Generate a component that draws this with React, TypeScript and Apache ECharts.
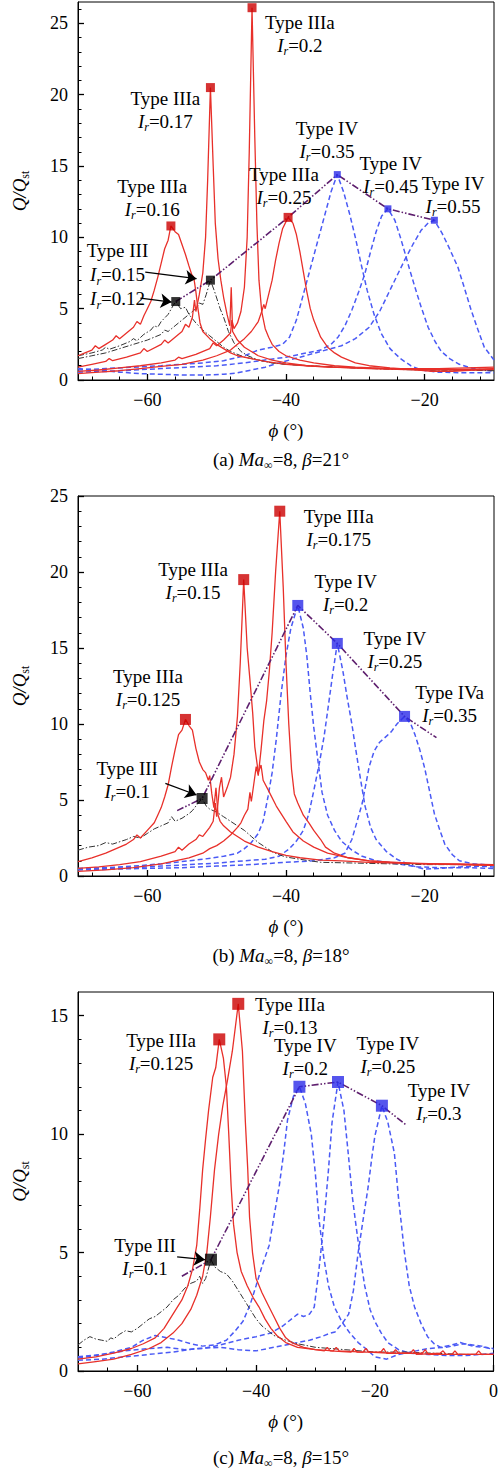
import React, { useEffect, useRef } from 'react';
import * as echarts from 'echarts';

const FONT = "'Times New Roman', 'Liberation Serif', serif";

// ---------- tick values ----------
const AB_X_MAJOR = [-60, -40, -20];
const AB_X_MINOR = [-68, -64, -56, -52, -48, -44, -36, -32, -28, -24, -16, -12];
const C_X_MAJOR = [-60, -40, -20, 0];
const C_X_MINOR = [-65, -55, -50, -45, -35, -30, -25, -15, -10, -5];
const A_Y_MAJOR = [0, 5, 10, 15, 20, 25];
const A_Y_MINOR = [1, 2, 3, 4, 6, 7, 8, 9, 11, 12, 13, 14, 16, 17, 18, 19, 21, 22, 23, 24, 26];
const B_Y_MAJOR = [0, 5, 10, 15, 20, 25];
const B_Y_MINOR = [1, 2, 3, 4, 6, 7, 8, 9, 11, 12, 13, 14, 16, 17, 18, 19, 21, 22, 23, 24];
const C_Y_MAJOR = [0, 5, 10, 15];
const C_Y_MINOR = [1, 2, 3, 4, 6, 7, 8, 9, 11, 12, 13, 14];

// ---------- panel (a) Ma=8, beta=21 ----------
const A_III_012 = [[-70,1.7],[-68,1.9],[-66.5,2.1],[-66,2.3],[-65.5,2.15],[-64,2.4],[-62.5,2.7],[-62,2.9],[-61.5,2.75],[-60.5,3.2],[-59.5,3.5],[-59,3.8],[-58.5,3.7],[-58,4.1],[-57,4.6],[-56.3,5.2],[-55.9,5.5],[-55.2,5.0],[-54.5,5.1],[-54,4.6],[-53,4.0],[-52,3.5],[-51,3.1],[-50,2.7],[-49,2.3],[-48,2.0],[-46,1.6],[-44,1.4],[-42,1.2],[-40,1.1],[-35,0.95],[-30,0.85],[-25,0.8],[-20,0.7],[-15,0.7],[-10,0.65]];
const A_III_015 = [[-70,1.5],[-68,1.7],[-66,1.9],[-64,2.2],[-62,2.5],[-60,2.8],[-58,3.2],[-57.5,3.5],[-57,3.4],[-56,3.8],[-55,4.2],[-54,4.6],[-53,5.0],[-52.5,5.4],[-52,5.3],[-51.5,6.0],[-50.9,7.0],[-50.3,6.2],[-49.5,5.0],[-49,4.4],[-48.3,3.4],[-47.5,2.6],[-46.5,2.0],[-45.5,1.7],[-44,1.4],[-42,1.2],[-40,1.1],[-35,0.95],[-30,0.85],[-25,0.75],[-20,0.7],[-15,0.7],[-10,0.7]];
const A_IIIA_016 = [[-70,1.7],[-69,1.9],[-68,2.1],[-67.5,2.4],[-67,2.2],[-66,2.5],[-65,2.8],[-64.5,3.1],[-64,2.9],[-63,3.3],[-62,3.7],[-61.5,4.1],[-61,3.9],[-60.5,4.5],[-60,5.0],[-59.5,5.5],[-59,6.3],[-58.5,7.2],[-58,8.2],[-57.5,9.2],[-57,9.8],[-56.6,10.8],[-56,10.4],[-55.5,10.2],[-55,9.5],[-54.5,8.8],[-54,8.0],[-53.6,7.4],[-53.3,7.2],[-53,6.2],[-52.7,5.0],[-52.4,4.0],[-52,3.4],[-51,2.9],[-50,2.5],[-49,2.2],[-48,1.9],[-47,1.7],[-45,1.5],[-43,1.3],[-40,1.1],[-37,1.0],[-34,0.9],[-30,0.85],[-26,0.8],[-22,0.8],[-18,0.8],[-14,0.85],[-10,0.9]];
const A_IIIA_017 = [[-70,0.9],[-68,1.1],[-66,1.3],[-65.5,1.5],[-65,1.35],[-63,1.6],[-61,1.9],[-60.5,2.2],[-60,2.0],[-58,2.5],[-57.5,2.8],[-57,2.6],[-56,3.0],[-55,3.4],[-54.5,3.9],[-54,3.7],[-53.5,4.4],[-53.2,5.6],[-53,4.8],[-52.5,6.0],[-52,7.5],[-51.6,10],[-51.3,14],[-50.9,20.5],[-50.5,15],[-50.2,11],[-49.8,8.5],[-49.4,7.0],[-49,5.8],[-48.5,4.6],[-48.1,3.8],[-47.9,6.5],[-47.7,3.4],[-47,2.8],[-46,2.3],[-45,2.0],[-44,1.7],[-42,1.4],[-40,1.2],[-37,1.0],[-33,0.9],[-28,0.8],[-24,0.75],[-20,0.7],[-15,0.75],[-10,0.8]];
const A_IIIA_02 = [[-70,0.6],[-67,0.7],[-64,0.85],[-61,1.0],[-58,1.2],[-56,1.4],[-55.5,1.6],[-55,1.5],[-53,1.8],[-51,2.2],[-50.5,2.6],[-50,2.4],[-49,2.8],[-48,3.3],[-47.8,4.2],[-47.5,3.6],[-47,4.0],[-46.5,4.8],[-46,6.5],[-45.6,10],[-45.3,16],[-44.9,26.1],[-44.5,17],[-44.2,11],[-43.9,7.0],[-43.5,4.8],[-43,3.6],[-42.5,3.0],[-42,2.5],[-41,2.0],[-40,1.7],[-38,1.4],[-36,1.2],[-33,1.0],[-30,0.9],[-25,0.8],[-20,0.75],[-15,0.7],[-10,0.75]];
const A_IIIA_025 = [[-70,0.45],[-67,0.55],[-64,0.65],[-61,0.8],[-58,0.95],[-55,1.1],[-52,1.4],[-50,1.7],[-48,2.1],[-47,2.5],[-46,2.9],[-45,3.4],[-44,4.1],[-43.5,4.8],[-43.2,5.3],[-43,5.0],[-42.5,6.0],[-42,7.0],[-41.5,8.4],[-41,9.6],[-40.5,10.6],[-39.7,11.4],[-39,11.0],[-38.5,10.2],[-38,9.0],[-37.5,7.6],[-37,6.2],[-36.5,5.0],[-36,4.2],[-35.5,3.6],[-35,3.0],[-34,2.3],[-33,1.9],[-32,1.6],[-30,1.2],[-28,1.0],[-25,0.85],[-22,0.75],[-19,0.6],[-16,0.6],[-13,0.7],[-10,0.75]];
const A_IV_035 = [[-70,0.7],[-66,0.8],[-62,0.9],[-58,1.0],[-55,1.1],[-52,1.2],[-49,1.35],[-46,1.7],[-44,2.1],[-42,2.3],[-40.5,2.5],[-39.5,3.0],[-38.5,4.2],[-37.5,6.0],[-36.5,7.8],[-35.5,9.6],[-34.5,11.4],[-33.5,13.2],[-32.6,14.4],[-31.7,13.2],[-30.8,11.6],[-30,10.0],[-29.2,8.2],[-28.3,6.3],[-27.3,4.6],[-26.3,3.3],[-25,2.2],[-23.5,1.5],[-22,1.0],[-20.5,0.7],[-18,0.55],[-14,0.5],[-10,0.5]];
const A_IV_045 = [[-70,0.55],[-66,0.6],[-62,0.7],[-58,0.8],[-54,0.9],[-50,1.0],[-46,1.2],[-43,1.4],[-40,1.6],[-37,1.9],[-35,2.1],[-33.5,2.5],[-32.5,3.0],[-31.5,3.8],[-30.5,4.9],[-29.5,6.2],[-28.6,7.5],[-27.8,9.0],[-27,10.4],[-26.2,11.5],[-25.3,12.0],[-24.3,11.2],[-23.5,10.0],[-22.9,9.0],[-22.2,7.8],[-21.4,6.5],[-20.5,5.1],[-19.5,3.7],[-18.5,2.7],[-17.6,2.0],[-16.4,1.5],[-15,1.1],[-13,0.8],[-10,0.6]];
const A_IV_055 = [[-70,0.8],[-67,0.7],[-64,0.55],[-61,0.45],[-58,0.4],[-55,0.35],[-52,0.35],[-49,0.4],[-47,0.5],[-45,0.7],[-43,0.9],[-41,1.2],[-38,1.6],[-35,2.0],[-32,2.4],[-30,2.9],[-28,3.7],[-26.5,4.8],[-25.2,6.1],[-24,7.3],[-22.9,8.4],[-21.7,9.5],[-20.5,10.5],[-19.5,11.0],[-18.6,11.2],[-17.5,10.3],[-16.5,9.3],[-15.2,7.9],[-14.3,6.5],[-13.3,4.9],[-12.3,3.5],[-11.4,2.3],[-10,1.4]];
const A_TREND = [[-55.9,5.5],[-50.9,7.0],[-39.7,11.4],[-32.6,14.4],[-25.3,12.0],[-18.6,11.2]];
const A_RED_PEAKS = [[-56.6,10.8],[-50.9,20.5],[-44.9,26.1],[-39.7,11.4]];
const A_BLUE_PEAKS = [[-32.6,14.4],[-25.3,12.0],[-18.6,11.2]];
const A_BLACK_PEAKS = [[-55.9,5.5],[-50.9,7.0]];
const A_ARROWS = [[[-60.3,7.56],[-52.9,7.1]], [[-61.0,5.74],[-56.5,5.46]]];
const A_NOTES = [
  { type: 'Type IIIa', irs: ['0.2'], at: [-38.0, 25.84] },
  { type: 'Type IIIa', irs: ['0.17'], at: [-57.4, 20.55] },
  { type: 'Type IIIa', irs: ['0.16'], at: [-59.3, 14.4] },
  { type: 'Type IIIa', irs: ['0.25'], at: [-40.3, 15.23] },
  { type: 'Type IV', irs: ['0.35'], at: [-34.1, 18.45] },
  { type: 'Type IV', irs: ['0.45'], at: [-24.9, 16.0] },
  { type: 'Type IV', irs: ['0.55'], at: [-15.9, 14.6] },
  { type: 'Type III', irs: ['0.15', '0.12'], at: [-64.3, 9.91] },
];

// ---------- panel (b) Ma=8, beta=18 ----------
const B_III_01 = [[-70,1.7],[-68.5,1.9],[-67,2.0],[-66,2.2],[-65,2.1],[-63,2.4],[-62,2.6],[-61,2.5],[-60,2.8],[-59,3.1],[-58,3.3],[-57,3.5],[-56.5,3.9],[-56,3.6],[-55,3.8],[-54,4.1],[-53.5,4.3],[-53,4.6],[-52.1,5.1],[-51.5,4.6],[-51,4.4],[-50,4.2],[-49,3.9],[-48,3.6],[-47,3.3],[-46,3.0],[-45,2.6],[-44,2.2],[-43,1.9],[-42,1.6],[-41,1.4],[-40,1.25],[-38,1.1],[-35,0.9],[-30,0.85],[-25,0.8],[-20,0.75],[-15,0.75],[-10,0.7]];
const B_IIIA_0125 = [[-70,0.95],[-68,1.2],[-66,1.5],[-65,1.7],[-64,1.9],[-63,2.1],[-62,2.4],[-61.5,2.7],[-61,2.5],[-60,3.0],[-59,3.5],[-58.5,4.0],[-58,4.5],[-57.5,5.2],[-57,6.0],[-56.5,7.2],[-56,8.3],[-55.5,9.3],[-55,9.6],[-54.5,10.3],[-54,9.9],[-53.5,9.6],[-53,8.4],[-52.5,7.5],[-52,7.0],[-51.6,6.8],[-51.2,6.3],[-51,6.6],[-50.7,5.4],[-50.4,4.5],[-50.1,5.8],[-49.8,4.0],[-49.5,3.6],[-49,3.3],[-48,2.9],[-47,2.6],[-46,2.3],[-45,2.1],[-44,1.9],[-42,1.6],[-40,1.35],[-38,1.2],[-35,1.05],[-32,1.0],[-28,0.9],[-24,0.85],[-20,0.8],[-15,0.8],[-10,0.75]];
const B_IIIA_015 = [[-70,0.5],[-67,0.6],[-64,0.75],[-61,0.95],[-58,1.3],[-56,1.6],[-55.5,1.9],[-55,1.7],[-54,2.1],[-53,2.4],[-52.5,2.7],[-52,2.6],[-51,3.2],[-50.5,3.6],[-50.2,4.8],[-50,3.9],[-49.6,5.8],[-49.3,6.5],[-49,5.2],[-48.5,5.8],[-48,6.5],[-47.5,8.0],[-47,10.5],[-46.6,14],[-46.1,19.5],[-45.6,15],[-45.2,12.9],[-44.8,10.7],[-44.5,8.5],[-44,6.8],[-43.6,7.3],[-43.3,6.3],[-42.5,5.6],[-41.4,4.6],[-40,3.6],[-39,2.9],[-37.5,2.3],[-36,1.9],[-34,1.5],[-31,1.2],[-28,1.0],[-24,0.9],[-20,0.8],[-15,0.75],[-10,0.7]];
const B_IIIA_0175 = [[-70,0.3],[-66,0.4],[-62,0.55],[-58,0.8],[-56,1.0],[-54,1.2],[-52,1.5],[-51,1.8],[-50,2.0],[-49,2.3],[-48,2.7],[-47,3.2],[-46.5,3.5],[-46,4.0],[-45.5,4.4],[-45.2,5.5],[-45,4.9],[-44.6,6.2],[-44.3,7.2],[-44,6.6],[-43.6,8.3],[-43.2,10.2],[-42.8,11.5],[-42.4,13.5],[-42,16],[-41.5,20],[-40.9,24.0],[-40.4,19],[-40,14],[-39.6,10],[-39.2,7],[-38.8,5.4],[-38.3,4.8],[-37.5,4.0],[-36.7,3.5],[-36,3.0],[-35,2.4],[-34.3,1.9],[-33,1.5],[-31,1.2],[-28,1.0],[-25,0.9],[-22,0.85],[-18,0.8],[-14,0.75],[-10,0.7]];
const B_IV_02 = [[-70,0.5],[-66,0.55],[-62,0.65],[-58,0.8],[-55,0.95],[-52,1.1],[-49,1.3],[-47,1.5],[-46,1.8],[-45,2.2],[-44,2.8],[-43.3,3.6],[-42.6,5.2],[-42,6.8],[-41.4,9.0],[-40.7,12.0],[-40,14.5],[-39.3,16.3],[-38.3,17.8],[-37.5,16.3],[-37,14.5],[-36.5,12],[-36,9.8],[-35.4,7.6],[-34.8,5.5],[-34,4.0],[-33,3.0],[-32,2.3],[-30.5,1.7],[-29,1.3],[-27,1.0],[-24,0.8],[-21,0.6],[-18,0.55],[-14,0.55],[-10,0.5]];
const B_IV_025 = [[-70,0.45],[-66,0.5],[-62,0.55],[-58,0.65],[-54,0.75],[-50,0.85],[-46,1.0],[-43,1.1],[-41,1.3],[-39.5,1.8],[-38.5,2.3],[-37.5,3.0],[-36.7,4.1],[-36,5.6],[-35.2,7.4],[-34.5,9.2],[-33.8,11.5],[-33.2,13.5],[-32.6,15.3],[-31.8,13.5],[-31.2,11.8],[-30.5,10.0],[-30,8.5],[-29.3,6.5],[-28.6,4.6],[-27.8,3.2],[-27,2.4],[-25.5,1.6],[-24,1.1],[-22,0.7],[-20,0.45],[-18,0.5],[-15,0.6],[-12,0.65],[-10,0.6]];
const B_IVA_035 = [[-70,0.4],[-65,0.45],[-60,0.5],[-55,0.55],[-50,0.65],[-45,0.75],[-40,0.9],[-36,1.0],[-33,1.2],[-31.5,1.5],[-30.5,2.4],[-29.8,3.5],[-29,4.8],[-28.5,6.0],[-28,7.2],[-27.3,8.2],[-26.5,8.8],[-25.5,9.2],[-24.8,9.5],[-24,10.0],[-22.9,10.5],[-22,10.0],[-21.4,9.3],[-20.7,8.3],[-20,7.1],[-19.3,5.6],[-18.6,4.1],[-17.8,3.0],[-17.1,2.1],[-16,1.4],[-15,1.0],[-13,0.8],[-10,0.7]];
const B_TREND = [[-55.7,4.3],[-52.1,5.1],[-38.3,17.8],[-32.6,15.3],[-22.9,10.5],[-18.3,9.1]];
const B_RED_PEAKS = [[-54.5,10.3],[-46.1,19.5],[-40.9,24.0]];
const B_BLUE_PEAKS = [[-38.3,17.8],[-32.6,15.3],[-22.9,10.5]];
const B_BLACK_PEAKS = [[-52.1,5.1]];
const B_ARROWS = [[[-57.4,6.1],[-52.9,5.33]]];
const B_NOTES = [
  { type: 'Type IIIa', irs: ['0.175'], at: [-32.4, 24.38] },
  { type: 'Type IIIa', irs: ['0.15'], at: [-53.4, 20.95] },
  { type: 'Type IV', irs: ['0.2'], at: [-31.4, 20.1] },
  { type: 'Type IV', irs: ['0.25'], at: [-24.3, 16.41] },
  { type: 'Type IIIa', irs: ['0.125'], at: [-59.9, 13.85] },
  { type: 'Type IVa', irs: ['0.35'], at: [-16.4, 12.8] },
  { type: 'Type III', irs: ['0.1'], at: [-62.9, 7.86] },
];

// ---------- panel (c) Ma=8, beta=15 ----------
const C_III_01 = [[-70,1.1],[-69,1.3],[-68,1.45],[-67,1.35],[-66,1.3],[-65,1.25],[-64.5,1.4],[-64,1.35],[-63,1.55],[-62,1.7],[-61,1.65],[-60,1.8],[-59,2.0],[-58,2.2],[-57,2.3],[-56,2.5],[-55,2.7],[-54,3.0],[-53,3.2],[-52,3.5],[-51,3.7],[-50,3.8],[-49.5,4.0],[-49,3.7],[-48.5,3.9],[-47.6,4.7],[-47,4.4],[-46,4.2],[-45,4.1],[-44,3.8],[-43,3.4],[-42,3.0],[-41,2.6],[-40,2.2],[-39,1.9],[-38,1.7],[-37,1.5],[-35,1.3],[-33,1.15],[-30,1.0],[-25,0.9],[-20,0.8],[-15,0.8],[-10,0.75],[-5,0.7],[0,0.7]];
const C_IIIA_0125 = [[-70,0.5],[-67,0.6],[-64,0.75],[-61,0.95],[-59,1.15],[-57,1.4],[-55.5,1.8],[-54.5,2.2],[-53.5,2.6],[-52.5,3.0],[-51.5,3.6],[-50.7,4.3],[-50,5.3],[-49.5,6.8],[-49,8.5],[-48.5,9.8],[-48,11.0],[-47.3,12.4],[-46.8,12.8],[-46.2,14.0],[-45.5,13.2],[-45.0,12.0],[-44.6,10.0],[-44.2,7.8],[-43.8,6.2],[-43.2,5.0],[-42.5,4.2],[-41.5,3.6],[-40.5,3.1],[-39.5,2.7],[-38.5,2.2],[-37.5,1.8],[-36.5,1.5],[-35,1.2],[-33,1.0],[-30,0.9],[-27,0.85],[-26.5,1.0],[-26,0.85],[-22,0.8],[-21.5,0.95],[-21,0.8],[-17,0.75],[-16.5,0.9],[-16,0.75],[-12,0.75],[-11.5,0.9],[-11,0.7],[-7,0.7],[-6.5,0.85],[-6,0.7],[0,0.7]];
const C_IIIA_013 = [[-70,0.3],[-67,0.4],[-64,0.5],[-61,0.7],[-58,0.95],[-56,1.2],[-54,1.6],[-52.5,2.0],[-51,2.6],[-50,3.2],[-49,4.0],[-48.3,5.0],[-47.7,6.5],[-47,8.5],[-46.3,10.0],[-45.6,11.2],[-44.8,12.3],[-44,13.5],[-43.0,15.5],[-42.3,13.5],[-41.8,10.5],[-41.4,8.5],[-41.1,6.5],[-40.6,5.0],[-40,3.9],[-39,3.3],[-38,2.8],[-37,2.3],[-36,1.8],[-35,1.4],[-34,1.2],[-32,1.0],[-30,0.9],[-28.5,0.85],[-28,1.0],[-27.5,0.85],[-24,0.8],[-23.5,0.95],[-23,0.8],[-19,0.8],[-18.5,0.95],[-18,0.75],[-14,0.75],[-13.5,0.9],[-13,0.7],[-9,0.75],[-8.5,0.85],[-8,0.7],[-3,0.7],[-2.5,0.85],[-2,0.7],[0,0.7]];
const C_IV_02 = [[-70,0.55],[-67,0.65],[-64,0.8],[-61,1.0],[-59,1.3],[-57,1.5],[-55,1.4],[-53,1.3],[-51,1.15],[-49,1.05],[-47,1.1],[-45,1.3],[-43.5,1.7],[-42.2,2.1],[-41,2.8],[-40,3.6],[-38.9,4.5],[-37.8,5.3],[-37,6.5],[-36.1,7.8],[-35.3,9.3],[-34.7,10.6],[-33.7,11.6],[-32.7,12.0],[-31.7,11.3],[-30.7,10.0],[-30,8.3],[-29.4,6.4],[-28.6,4.8],[-27.8,3.6],[-26.8,2.7],[-25.6,2.1],[-24.2,1.6],[-22.8,1.2],[-21.3,0.9],[-20,0.6],[-18,0.5],[-16,0.7],[-13,0.85],[-11,0.95],[-8,1.0],[-5,1.15],[-2,1.05],[0,0.9]];
const C_IV_025 = [[-70,0.6],[-66,0.7],[-62,0.85],[-58,0.95],[-55,1.0],[-52,0.9],[-49,0.95],[-46,1.1],[-43,1.3],[-40,1.45],[-37.5,1.6],[-35.5,1.9],[-34,2.2],[-33,2.4],[-32,2.3],[-31,2.4],[-30.2,2.7],[-29.4,4.3],[-28.6,6.2],[-27.8,8.5],[-27.2,10.5],[-26.2,12.2],[-25.2,11.0],[-24.4,9.0],[-23.8,7.4],[-23.3,6.4],[-22.5,4.9],[-21.7,3.6],[-20.8,2.6],[-20,2.1],[-18.9,1.6],[-17.8,1.2],[-16,0.9],[-14,0.75],[-11,0.7],[-8,0.65],[-5,0.65],[-2,0.7],[0,0.75]];
const C_IV_03 = [[-70,0.45],[-66,0.5],[-62,0.6],[-58,0.7],[-54,0.8],[-50,0.95],[-46,1.0],[-43,0.9],[-40,0.85],[-37,1.0],[-34,1.15],[-31,1.3],[-29,1.45],[-27.5,1.6],[-26.7,1.65],[-25.5,2.0],[-24.4,2.4],[-23.6,3.4],[-22.8,5.0],[-21.9,6.5],[-21.1,7.8],[-20.5,9.0],[-20,9.9],[-18.8,11.2],[-17.8,10.5],[-16.7,9.2],[-16,7.3],[-15,5.0],[-14.2,3.6],[-13.3,2.7],[-12.2,2.0],[-11.1,1.45],[-10,1.15],[-8.9,1.0],[-7,1.1],[-5.6,1.2],[-3.5,1.05],[-1.5,1.0],[0,0.95]];
const C_TREND = [[-52.5,4.0],[-47.6,4.7],[-32.7,12.0],[-26.2,12.2],[-18.8,11.2],[-14.8,10.4]];
const C_RED_PEAKS = [[-46.2,14.0],[-43.0,15.5]];
const C_BLUE_PEAKS = [[-32.7,12.0],[-26.2,12.2],[-18.8,11.2]];
const C_BLACK_PEAKS = [[-47.6,4.7]];
const C_ARROWS = [[[-53.3,4.82],[-48.6,4.7]]];
const C_NOTES = [
  { type: 'Type IIIa', irs: ['0.13'], at: [-34.3, 15.95] },
  { type: 'Type IIIa', irs: ['0.125'], at: [-56.0, 14.43] },
  { type: 'Type IV', irs: ['0.2'], at: [-31.7, 14.22] },
  { type: 'Type IV', irs: ['0.25'], at: [-17.8, 14.3] },
  { type: 'Type IV', irs: ['0.3'], at: [-9.2, 12.33] },
  { type: 'Type III', irs: ['0.1'], at: [-58.7, 5.79] },
];

const RED = '#e8302a';
const RED_MK = '#cc0000';
const BLUE = '#4a5af5';
const BLUE_MK = '#2a2ae8';
const PURPLE = '#5e1f6e';

const PANELS = [
  { top: 2, height: 378, xmin: -70, xmax: -10, ymax: 26.5, xMaj: AB_X_MAJOR, xMin: AB_X_MINOR, yMaj: A_Y_MAJOR, yMin: A_Y_MINOR,
    red: [A_IIIA_016, A_IIIA_017, A_IIIA_02, A_IIIA_025], blue: [A_IV_035, A_IV_045, A_IV_055], black: [A_III_012, A_III_015],
    trend: A_TREND, redPk: A_RED_PEAKS, bluePk: A_BLUE_PEAKS, blackPk: A_BLACK_PEAKS, arrows: A_ARROWS, notes: A_NOTES,
    mk: [9, 7, 9], caption: ['(a) ', '21'], capY: 459 },
  { top: 496, height: 380, xmin: -70, xmax: -10, ymax: 25, xMaj: AB_X_MAJOR, xMin: AB_X_MINOR, yMaj: B_Y_MAJOR, yMin: B_Y_MINOR,
    red: [B_IIIA_0125, B_IIIA_015, B_IIIA_0175], blue: [B_IV_02, B_IV_025, B_IVA_035], black: [B_III_01],
    trend: B_TREND, redPk: B_RED_PEAKS, bluePk: B_BLUE_PEAKS, blackPk: B_BLACK_PEAKS, arrows: B_ARROWS, notes: B_NOTES,
    mk: [11, 11, 11], caption: ['(b) ', '18'], capY: 955 },
  { top: 992, height: 379, xmin: -70, xmax: 0, ymax: 16, xMaj: C_X_MAJOR, xMin: C_X_MINOR, yMaj: C_Y_MAJOR, yMin: C_Y_MINOR,
    red: [C_IIIA_0125, C_IIIA_013], blue: [C_IV_02, C_IV_025, C_IV_03], black: [C_III_01],
    trend: C_TREND, redPk: C_RED_PEAKS, bluePk: C_BLUE_PEAKS, blackPk: C_BLACK_PEAKS, arrows: C_ARROWS, notes: C_NOTES,
    mk: [12, 12, 12], caption: ['(c) ', '15'], capY: 1457 },
];

const RICH = {
  i: { fontFamily: FONT, fontSize: 19, fontStyle: 'italic', lineHeight: 23, fill: '#000', color: '#000' },
  s: { fontFamily: FONT, fontSize: 12, fontStyle: 'italic', lineHeight: 10, verticalAlign: 'bottom', fill: '#000', color: '#000' },
  u: { fontFamily: FONT, fontSize: 12, lineHeight: 10, verticalAlign: 'bottom', fill: '#000', color: '#000' },
};

const fmt = (v: number) => (v < 0 ? '\u2212' + Math.abs(v) : String(v));

export default function App() {
  const ref = useRef<HTMLDivElement>(null);
  useEffect(() => {
    const chart = echarts.init(ref.current!, null, { renderer: 'svg' });
    const grids: any[] = [];
    const xAxes: any[] = [];
    const yAxes: any[] = [];
    const series: any[] = [];

    PANELS.forEach((p, gi) => {
      grids.push({ left: 78, right: 7, top: p.top, height: p.height, show: true, borderColor: '#000', borderWidth: 1, backgroundColor: 'transparent', containLabel: false });
      const ax = 2 * gi;
      xAxes.push({
        type: 'value', gridIndex: gi, min: p.xmin, max: p.xmax, position: 'bottom',
        axisLine: { show: true, onZero: false, lineStyle: { color: '#000', width: 1 } },
        axisTick: { show: true, inside: true, length: 6, customValues: p.xMaj, lineStyle: { color: '#000', width: 1.3 } },
        axisLabel: { show: true, customValues: p.xMaj, formatter: fmt, fontFamily: FONT, fontSize: 18, color: '#000', margin: 11 },
        splitLine: { show: false },
        name: '{i|\u03d5} (\u00b0)', nameLocation: 'middle', nameGap: 39,
        nameTextStyle: { fontFamily: FONT, fontSize: 19, color: '#000', rich: RICH },
      });
      xAxes.push({
        type: 'value', gridIndex: gi, min: p.xmin, max: p.xmax, position: 'bottom',
        axisLine: { show: false, onZero: false },
        axisTick: { show: true, inside: true, length: 3.5, customValues: p.xMin, lineStyle: { color: '#000', width: 1 } },
        axisLabel: { show: false }, splitLine: { show: false },
      });
      yAxes.push({
        type: 'value', gridIndex: gi, min: 0, max: p.ymax, position: 'left',
        axisLine: { show: true, onZero: false, lineStyle: { color: '#000', width: 1 } },
        axisTick: { show: true, inside: true, length: 6, customValues: p.yMaj, lineStyle: { color: '#000', width: 1.3 } },
        axisLabel: { show: true, customValues: p.yMaj, formatter: fmt, fontFamily: FONT, fontSize: 18, color: '#000', margin: 10 },
        splitLine: { show: false },
      });
      yAxes.push({
        type: 'value', gridIndex: gi, min: 0, max: p.ymax, position: 'left',
        axisLine: { show: false, onZero: false },
        axisTick: { show: true, inside: true, length: 3.5, customValues: p.yMin, lineStyle: { color: '#000', width: 1 } },
        axisLabel: { show: false }, splitLine: { show: false },
      });

      const base = { xAxisIndex: ax, yAxisIndex: ax, silent: true, animation: false };
      p.blue.forEach((d) => series.push({ ...base, type: 'line', data: d, symbol: 'none', z: 2,
        lineStyle: { color: BLUE, width: 1.5, type: [5, 3] } }));
      p.black.forEach((d) => series.push({ ...base, type: 'line', data: d, symbol: 'none', z: 3,
        lineStyle: { color: '#333', width: 1, type: [6, 2, 1.5, 2] } }));
      p.red.forEach((d) => series.push({ ...base, type: 'line', data: d, symbol: 'none', z: 4,
        lineStyle: { color: RED, width: 1.3 } }));
      series.push({ ...base, type: 'line', data: p.trend, symbol: 'none', z: 5,
        lineStyle: { color: PURPLE, width: 1.6, type: [7, 2, 1.5, 2, 1.5, 2] } });
      series.push({ ...base, type: 'scatter', data: p.redPk, symbol: 'rect', symbolSize: p.mk[0], z: 6, itemStyle: { color: RED_MK } });
      series.push({ ...base, type: 'scatter', data: p.bluePk, symbol: 'rect', symbolSize: p.mk[1], z: 6, itemStyle: { color: BLUE_MK } });
      series.push({ ...base, type: 'scatter', data: p.blackPk, symbol: 'rect', symbolSize: p.mk[2], z: 6, itemStyle: { color: '#000' } });
      series.push({ ...base, type: 'lines', coordinateSystem: 'cartesian2d', z: 7,
        data: p.arrows.map((c) => ({ coords: c })), symbol: ['none', 'arrow'], symbolSize: 11,
        lineStyle: { color: '#000', width: 1.3, opacity: 1 } });
    });

    chart.setOption({
      animation: false,
      backgroundColor: '#fff',
      textStyle: { fontFamily: FONT },
      grid: grids, xAxis: xAxes, yAxis: yAxes, series,
    });

    const gfx: any[] = [];
    PANELS.forEach((p, gi) => {
      const ax = 2 * gi;
      p.notes.forEach((n) => {
        const pt = chart.convertToPixel({ xAxisIndex: ax, yAxisIndex: ax } as any, n.at as any) as any;
        const text = n.type + n.irs.map((v) => '\n{i|I}{s|r}=' + v).join('');
        gfx.push({ type: 'text', x: pt[0], y: pt[1], z: 100,
          style: { text, fill: '#000', fontFamily: FONT, fontSize: 19, lineHeight: n.irs.length > 1 ? 24 : 23,
            align: 'center', verticalAlign: 'top', textAlign: 'center', textVerticalAlign: 'top', rich: RICH } });
      });
      const cy = p.top + p.height / 2;
      gfx.push({ type: 'text', x: 19, y: cy, rotation: Math.PI / 2, z: 100,
        style: { text: '{i|Q/Q}{u|st}', fill: '#000', fontFamily: FONT, fontSize: 19, lineHeight: 23,
          align: 'center', verticalAlign: 'middle', textAlign: 'center', textVerticalAlign: 'middle', rich: RICH } });
      gfx.push({ type: 'text', x: 281, y: p.capY, z: 100,
        style: { text: p.caption[0] + '{i|Ma}{u|\u221e}=8, {i|\u03b2}=' + p.caption[1] + '\u00b0', fill: '#000', fontFamily: FONT, fontSize: 19, lineHeight: 23,
          align: 'center', verticalAlign: 'middle', textAlign: 'center', textVerticalAlign: 'middle', rich: RICH } });
    });
    chart.setOption({ graphic: gfx });

    return () => chart.dispose();
  }, []);
  return <div ref={ref} style={{ position: 'absolute', left: 0, top: 0, width: 501, height: 1469, background: '#fff' }} />;
}
